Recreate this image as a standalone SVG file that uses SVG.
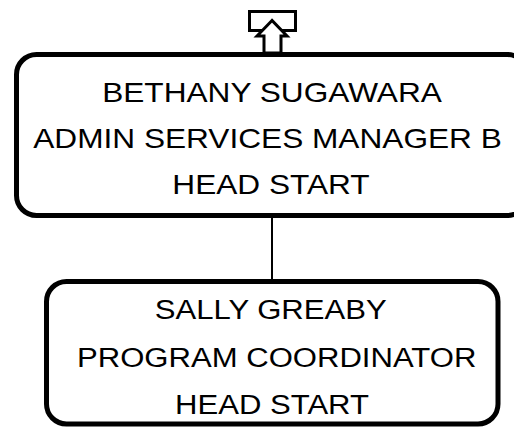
<svg xmlns="http://www.w3.org/2000/svg" width="514" height="428" viewBox="0 0 514 428">
<style>
.box{fill:#fff;stroke:#000;stroke-width:5}
.t{font-family:"Liberation Sans",Arial,sans-serif;font-size:28px;fill:#000;text-anchor:middle}
.conn{stroke:#000;stroke-width:2;fill:none}
.icon{fill:#fff;stroke:#000;stroke-width:3;stroke-linejoin:miter}
</style>
<rect width="514" height="428" fill="#fff"/>
<g id="connectors">
<line class="conn" x1="272" y1="215" x2="272" y2="282"/>
</g>
<g id="node-bethany">
<rect class="box" x="16.5" y="54.5" width="511" height="161" rx="20" ry="20"/>
<text class="t" transform="translate(272,102) scale(1.13,1)">BETHANY SUGAWARA</text>
<text class="t" transform="translate(267.5,147.5) scale(1.13,1)">ADMIN SERVICES MANAGER B</text>
<text class="t" transform="translate(271,193.5) scale(1.13,1)">HEAD START</text>
</g>
<g id="up-icon">
<rect class="icon" x="249.5" y="11.5" width="46" height="19"/>
<path class="icon" d="M272 20.5 L257 36 L264 36 L264 53 L281 53 L281 36 L287 36 Z"/>
</g>
<g id="node-sally">
<rect class="box" x="46.5" y="281.5" width="451.5" height="142.5" rx="20" ry="20"/>
<text class="t" transform="translate(270.7,318.5) scale(1.11,1)">SALLY GREABY</text>
<text class="t" transform="translate(276.7,367) scale(1.11,1)">PROGRAM COORDINATOR</text>
<text class="t" transform="translate(272,413.5) scale(1.11,1)">HEAD START</text>
</g>
</svg>
